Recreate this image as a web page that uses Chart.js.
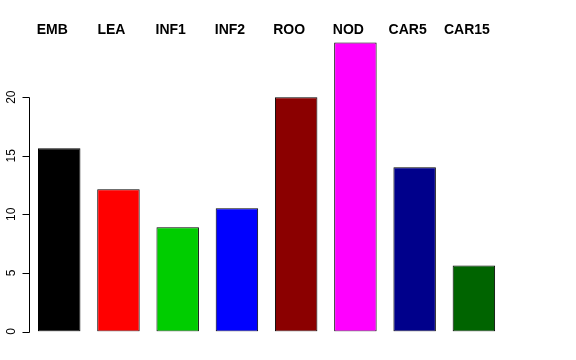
<!DOCTYPE html>
<html>
<head>
<meta charset="utf-8">
<script src="https://cdn.jsdelivr.net/npm/chart.js@4.4.1/dist/chart.umd.min.js"></script>
<style>
body { margin: 0; background: #ffffff; }
</style>
</head>
<body>
<canvas id="myChart" width="576" height="360"></canvas>
<script>
var categories = ['EMB', 'LEA', 'INF1', 'INF2', 'ROO', 'NOD', 'CAR5', 'CAR15'];
var values = [15.64, 12.14, 8.89, 10.51, 20.0, 24.67, 14.02, 5.64];
var barColors = ['#000000', '#FF0000', '#00CD00', '#0000FF', '#8B0000', '#FF00FF', '#00008B', '#006400'];
var yTicks = [0, 5, 10, 15, 20];

// base-graphics style y axis + labels above the plot
var rStyle = {
    id: 'rStyle',
    afterDraw: function (chart) {
        var c = chart.ctx;
        var y = chart.scales.y;
        var x = chart.scales.x;
        var ax = 29.5;
        c.save();
        c.strokeStyle = '#000';
        c.lineWidth = 1;
        c.beginPath();
        c.moveTo(ax, Math.round(y.getPixelForValue(yTicks[0])) + 0.5);
        c.lineTo(ax, Math.round(y.getPixelForValue(yTicks[yTicks.length - 1])) + 0.5);
        yTicks.forEach(function (t) {
            var py = Math.round(y.getPixelForValue(t)) + 0.5;
            c.moveTo(ax, py);
            c.lineTo(ax - 7, py);
        });
        c.stroke();

        c.fillStyle = '#000';
        c.font = '12px "Liberation Sans", Arial, sans-serif';
        c.textAlign = 'center';
        c.textBaseline = 'alphabetic';
        yTicks.forEach(function (t) {
            var py = y.getPixelForValue(t);
            c.save();
            c.translate(15, py);
            c.rotate(-Math.PI / 2);
            c.fillText(String(t), 0, 0);
            c.restore();
        });

        c.font = 'bold 14px "Liberation Sans", Arial, sans-serif';
        categories.forEach(function (name, i) {
            c.fillText(name, x.getPixelForValue(i) - 7, 34);
        });
        c.restore();
    }
};

var ctx = document.getElementById('myChart');
var chart = new Chart(ctx, {
    type: 'bar',
    data: {
        labels: categories,
        datasets: [{
            data: values,
            backgroundColor: barColors,
            borderColor: '#000000',
            borderWidth: 1,
            borderSkipped: false,
            barPercentage: 0.717,
            categoryPercentage: 1.0
        }]
    },
    options: {
        responsive: false,
        animation: false,
        layout: {
            padding: { left: 29.6, right: 72.5, top: 31.5, bottom: 28.5 }
        },
        plugins: {
            legend: { display: false },
            tooltip: { enabled: false }
        },
        scales: {
            x: { display: false, offset: true },
            y: { display: false, min: 0, max: 25.6 }
        }
    },
    plugins: [rStyle]
});
</script>
</body>
</html>
